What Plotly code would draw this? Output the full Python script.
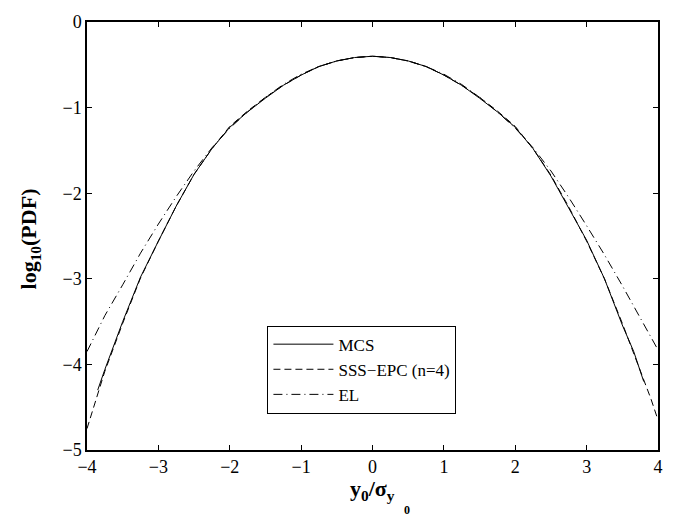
import plotly.graph_objects as go

# MCS (solid)
mcs_x = [-3.85, -3.75, -3.5, -3.25, -3.0, -2.75, -2.5, -2.25, -2.0, -1.75, -1.5, -1.25, -1.0, -0.75, -0.5, -0.25, 0.0,
         0.25, 0.5, 0.75, 1.0, 1.25, 1.5, 1.75, 2.0, 2.25, 2.5, 2.75, 3.0, 3.25, 3.5, 3.66, 3.8]
mcs_y = [-4.30, -4.06, -3.50, -2.98, -2.56, -2.15, -1.78, -1.48, -1.23, -1.05, -0.89, -0.74, -0.62, -0.52, -0.455, -0.415, -0.40,
         -0.415, -0.455, -0.52, -0.62, -0.74, -0.89, -1.05, -1.23, -1.48, -1.80, -2.17, -2.55, -3.00, -3.54, -3.85, -4.20]

# SSS-EPC (n=4) (dashed)
sss_x = [-4.0, -3.9, -3.75, -3.5, -3.25, -3.0, -2.75, -2.5, -2.25, -2.0, -1.75, -1.5, -1.25, -1.0, -0.75, -0.5, -0.25, 0.0,
         0.25, 0.5, 0.75, 1.0, 1.25, 1.5, 1.75, 2.0, 2.25, 2.5, 2.75, 3.0, 3.25, 3.5, 3.75, 3.9, 4.0]
sss_y = [-4.75, -4.48, -4.08, -3.52, -2.99, -2.56, -2.15, -1.78, -1.48, -1.22, -1.04, -0.88, -0.74, -0.62, -0.52, -0.455, -0.415, -0.40,
         -0.415, -0.455, -0.52, -0.62, -0.74, -0.88, -1.04, -1.22, -1.48, -1.79, -2.16, -2.56, -3.00, -3.52, -4.08, -4.40, -4.65]

# EL (dash-dot)
el_x = [-4.0, -3.75, -3.5, -3.25, -3.0, -2.75, -2.5, -2.25, -2.0, -1.75, -1.5, -1.25, -1.0, -0.75, -0.5, -0.25, 0.0,
        0.25, 0.5, 0.75, 1.0, 1.25, 1.5, 1.75, 2.0, 2.25, 2.5, 2.75, 3.0, 3.25, 3.5, 3.75, 4.0]
el_y = [-3.85, -3.43, -3.07, -2.70, -2.36, -2.04, -1.74, -1.47, -1.24, -1.05, -0.88, -0.73, -0.61, -0.52, -0.455, -0.415, -0.40,
        -0.415, -0.455, -0.52, -0.61, -0.73, -0.88, -1.05, -1.24, -1.47, -1.74, -2.05, -2.38, -2.72, -3.08, -3.45, -3.83]

x_ticks = [-4, -3, -2, -1, 0, 1, 2, 3, 4]
y_ticks = [-5, -4, -3, -2, -1, 0]

FONT = "Liberation Serif, Times New Roman, serif"

fig = go.Figure()
fig.add_trace(go.Scatter(x=mcs_x, y=mcs_y, mode="lines", name="MCS",
                         line=dict(color="black", width=1, dash="solid")))
fig.add_trace(go.Scatter(x=sss_x, y=sss_y, mode="lines", name="SSS\u2212EPC (n=4)",
                         line=dict(color="black", width=1, dash="7px,4px")))
fig.add_trace(go.Scatter(x=el_x, y=el_y, mode="lines", name="EL",
                         line=dict(color="black", width=1, dash="9px,4px,1px,4px")))

axis_common = dict(showgrid=False, zeroline=False, showline=True, linecolor="black", linewidth=1.5,
                   mirror="allticks", ticks="inside", ticklen=5, tickcolor="black", tickwidth=1,
                   tickfont=dict(family=FONT, size=18, color="black"))

fig.update_xaxes(range=[-4, 4], tickvals=x_ticks, **axis_common)
fig.update_yaxes(range=[-5, 0], tickvals=y_ticks, **axis_common)

fig.update_layout(
    width=682, height=520,
    margin=dict(l=87, r=24, t=15, b=70),
    paper_bgcolor="white", plot_bgcolor="white",
    font=dict(family=FONT, color="black"),
    showlegend=True,
    legend=dict(x=0.316, y=0.085, xanchor="left", yanchor="bottom",
                bgcolor="white", bordercolor="black", borderwidth=1,
                font=dict(family=FONT, size=17, color="black"),
                tracegroupgap=0, itemwidth=60),
    annotations=[
        dict(text="<b>y<sub>0</sub>/σ<sub>y</sub></b>", xref="paper", yref="paper",
             x=0.5, y=-0.055, xanchor="center", yanchor="top", showarrow=False,
             font=dict(family=FONT, size=22, color="black")),
        dict(text="<b>0</b>", xref="paper", yref="paper",
             x=0.551, y=-0.118, xanchor="left", yanchor="top", showarrow=False,
             font=dict(family=FONT, size=12, color="black")),
        dict(text="<b>log<sub>10</sub>(PDF)</b>", xref="paper", yref="paper",
             x=-0.1, y=0.494, xanchor="center", yanchor="middle", showarrow=False, textangle=-90,
             font=dict(family=FONT, size=22, color="black")),
    ],
)

fig.write_html("out.html", config={"displayModeBar": False},
               post_script="document.body.style.margin='0';")
